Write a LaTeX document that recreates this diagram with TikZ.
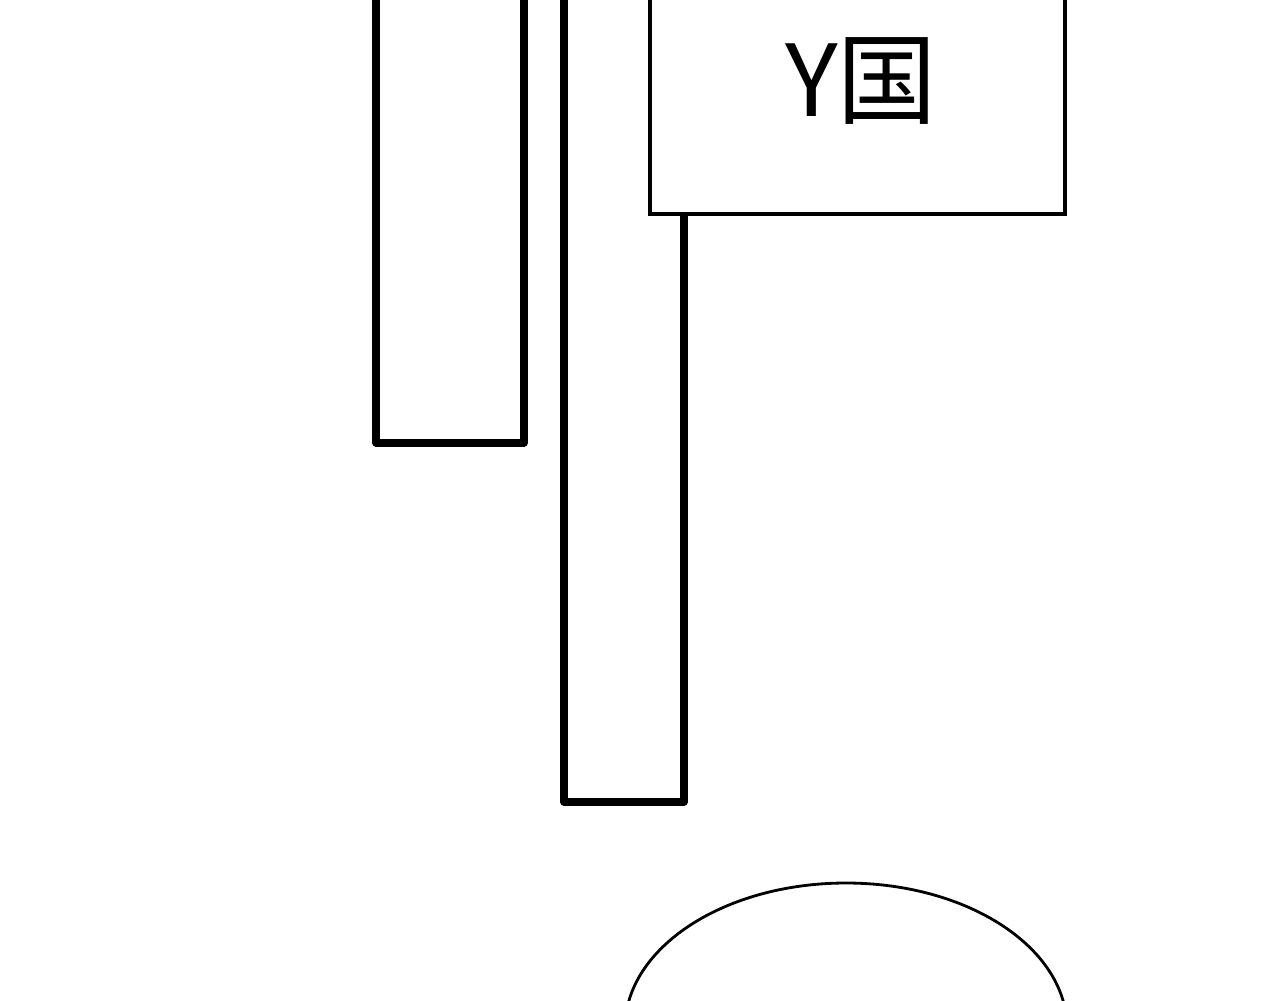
\documentclass[tikz,border=0pt]{standalone}
\usepackage{fontspec}
\newfontfamily\cjk{Noto Sans CJK SC}
\usetikzlibrary{positioning}

\begin{document}
\begin{tikzpicture}[
    x=0.02cm, y=-0.02cm,
    pole/.style = {draw, line width=4pt, line join=round},
    schild/.style = {draw, line width=2.6pt},
    kopf/.style = {draw, line width=1.6pt},
    font=\cjk\fontsize{56.5}{60}\selectfont
    ]

  \useasboundingbox (0,0) rectangle (1280,1000);
  \clip (0,0) rectangle (1280,1000);

  % poles
  \draw[pole] (376,-50) -- (376,443) -- (524,443) -- (524,-50) ;
  \draw[pole] (564,-50) -- (564,802) -- (684,802) -- (684,-50) ;

  % sign
  \draw[schild, fill=white] (650,-50) rectangle (1065,214) ;
  \node[] (ylabel) at (861,81) {Y国} ;

  % head
  \draw[kopf] (846,1028) ellipse [x radius=221, y radius=145] ;

\end{tikzpicture}
\end{document}
